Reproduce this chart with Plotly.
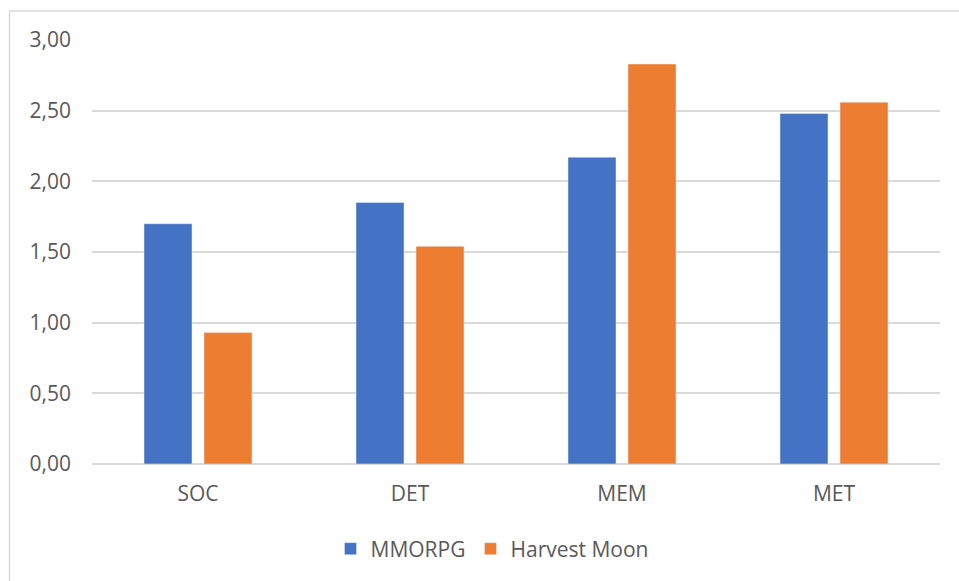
import plotly.graph_objects as go

categories = ["SOC", "DET", "MEM", "MET"]
mmorpg = [1.70, 1.85, 2.17, 2.48]
harvest_moon = [0.93, 1.54, 2.83, 2.56]
y_ticks = [0, 0.5, 1.0, 1.5, 2.0, 2.5, 3.0]
y_tick_labels = ["0,00", "0,50", "1,00", "1,50", "2,00", "2,50", "3,00"]

FONT = "Open Sans"
TXT = "#595959"

fig = go.Figure()
fig.add_trace(go.Bar(name="MMORPG", x=categories, y=mmorpg, marker_color="#4472C4"))
fig.add_trace(go.Bar(name="Harvest Moon", x=categories, y=harvest_moon, marker_color="#ED7D31"))

W, H = 959, 581
ml, mr, mt, mb = 92, 19, 40, 117
pw, ph = W - ml - mr, H - mt - mb

fig.update_layout(
    width=W, height=H,
    margin=dict(l=ml, r=mr, t=mt, b=mb, pad=0),
    paper_bgcolor="white", plot_bgcolor="white",
    barmode="group", bargap=0.434, bargroupgap=0.2,
    font=dict(family=FONT, size=21, color=TXT),
    showlegend=True,
    legend=dict(orientation="h", x=(492 - ml) / pw, xanchor="center",
                y=(mt + ph - 549) / ph, yanchor="middle",
                font=dict(family=FONT, size=21, color=TXT),
                itemwidth=30, traceorder="normal", bgcolor="rgba(0,0,0,0)"),
    xaxis=dict(showgrid=False, showline=False, zeroline=False,
               ticks="", ticklabelstandoff=15,
               tickfont=dict(family=FONT, size=21, color=TXT)),
    yaxis=dict(range=[0, 3], tickvals=y_ticks, ticktext=y_tick_labels,
               showgrid=True, gridcolor="#D9D9D9", gridwidth=1.5,
               zeroline=True, zerolinecolor="#D9D9D9", zerolinewidth=1.5,
               showline=False, ticks="", ticklabelstandoff=20,
               tickfont=dict(family=FONT, size=21, color=TXT)),
    shapes=[dict(type="rect", xref="paper", yref="paper",
                 x0=(9.5 - ml) / pw, x1=(975 - ml) / pw,
                 y0=(mt + ph - 600) / ph, y1=1 + (mt - 11) / ph,
                 line=dict(color="#D9D9D9", width=1.5), fillcolor="rgba(0,0,0,0)",
                 layer="below")],
)

fig.write_html("out.html", config={"displayModeBar": False},
               post_script="document.body.style.margin='0';document.body.style.overflow='hidden';")
